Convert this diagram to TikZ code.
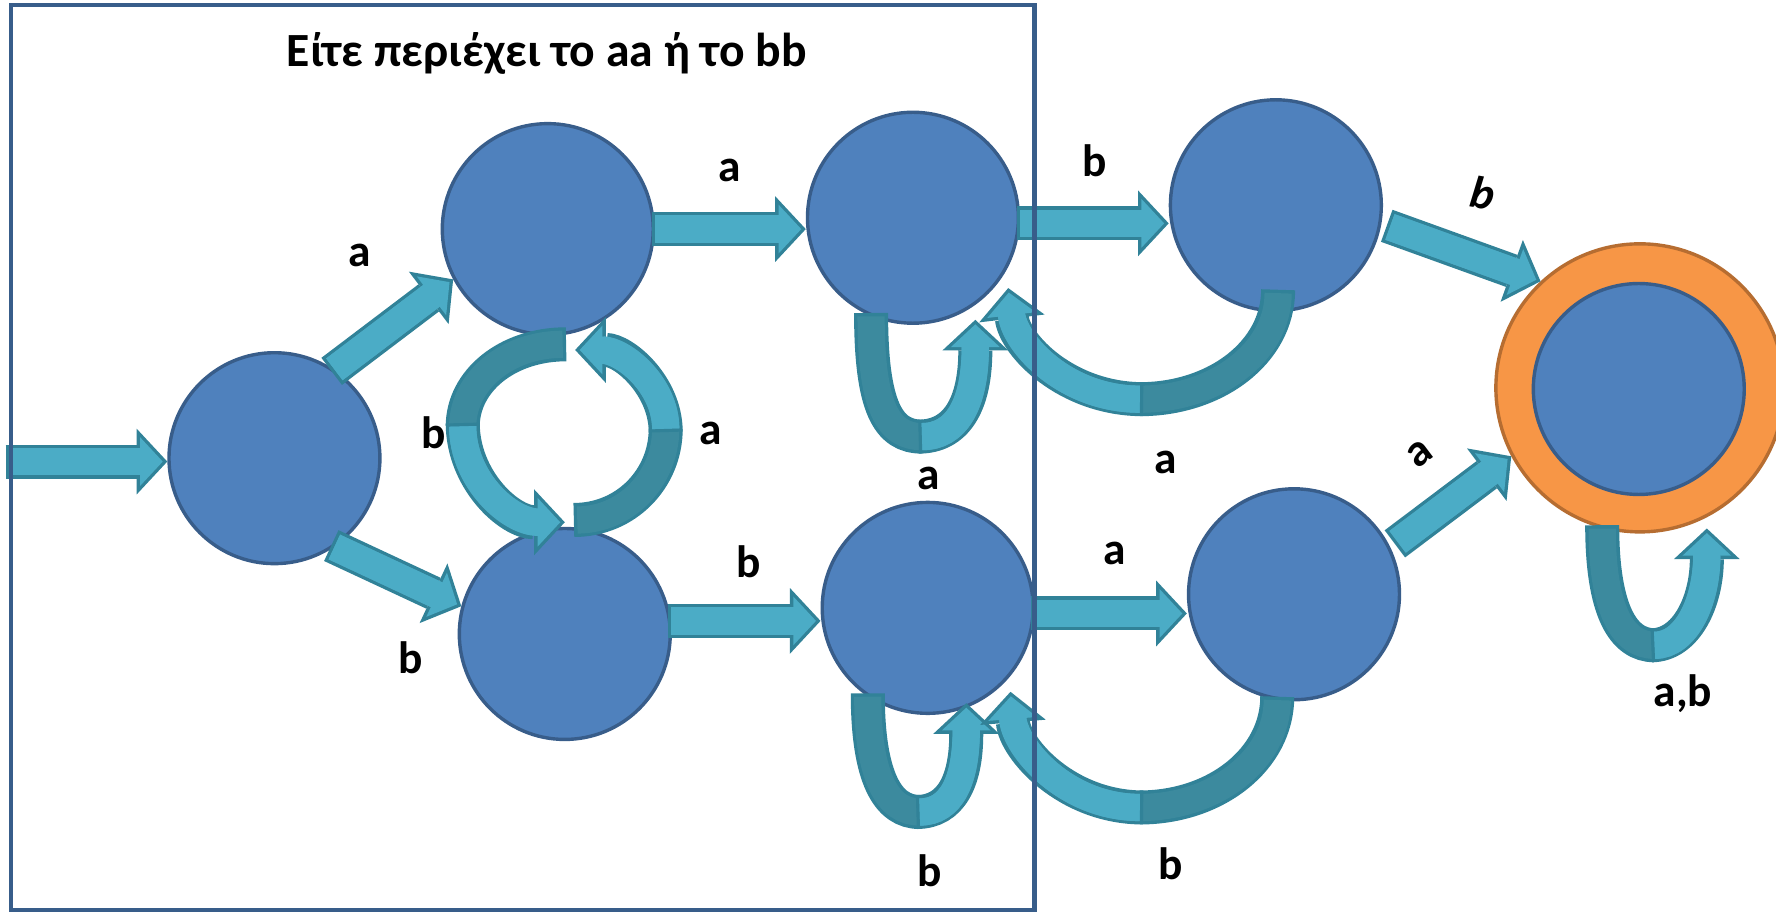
\documentclass[tikz,border=0pt]{standalone}
\usepackage{fontspec}
\setmainfont{Carlito}
\usetikzlibrary{arrows.meta,calc}

\definecolor{statefill}{RGB}{79,129,189}
\definecolor{stateline}{RGB}{56,93,138}
\definecolor{accfill}{RGB}{247,150,70}
\definecolor{accline}{RGB}{182,109,49}
\definecolor{arrfill}{RGB}{75,172,198}
\definecolor{arrdark}{RGB}{60,138,158}
\definecolor{arrline}{RGB}{49,130,152}

\newcommand{\lblfont}{\fontsize{40}{48}\selectfont\bfseries}

\tikzset{
  state/.style={circle, draw=stateline, fill=statefill, line width=3pt,
    minimum size=186pt, inner sep=0pt},
  accept/.style={circle, draw=accline, fill=accfill, line width=3pt,
    minimum size=254pt, inner sep=0pt},
  lbl/.style={font=\lblfont, inner sep=0pt},
  blockarr/.style={draw=arrfill, line width=24pt, shorten >=4pt,
    -{Triangle[length=20pt 0 0, width=43pt 0 0, line width=0pt 0 0]},
    preaction={draw=arrline, line width=30pt, shorten >=0pt, shorten <=-3pt,
      -{Triangle[length=27pt 0 0, width=58pt 0 0, line width=0pt 0 0]}},
    postaction={draw=arrfill, line width=24pt, -, shorten >=22pt}},
  backband/.style={draw=arrdark, line width=24pt,
    preaction={draw=arrline, line width=30pt, shorten <=-3pt}},
}

\begin{document}
\begin{tikzpicture}[x=1pt, y=1pt]
  \useasboundingbox (0,0) rectangle (1566,804);

  % states
  \node[state] (q0) at (242,400) {};
  \node[state] (q1) at (483,602) {};
  \node[state] (q2) at (805,612) {};
  \node[state] (q3) at (498,245) {};
  \node[state] (q4) at (818,268) {};
  \node[state] (q5) at (1125,623) {};
  \node[state] (q6) at (1141,280) {};
  \node[accept] (acc) at (1446,462) {};
  \node[state] (q7) at (1445,461) {};

  \node[lbl, font=\fontsize{42}{50}\selectfont\bfseries, anchor=base] (ttl)
    at (482,745) {Είτε περιέχει το aa ή το bb};

  % straight moves
  \coordinate (init) at (8,397);
  \draw[blockarr] (init) -- (q0.west |- init);
  \draw[blockarr] (q0.56) -- (q1.208);
  \draw[blockarr] (q0.-56) -- (q3.165);
  \draw[blockarr] (q1.east) -- (q1.east -| q2.west);
  \draw[blockarr] (q3.7) -- (q3.7 -| q4.west);
  \draw[blockarr] (q2.-3) -- (q2.-3 -| q5.west);
  \draw[blockarr] (q4.-3) -- (q4.-3 -| q6.west);
  \draw[blockarr] ($(q5.-10)!8pt!(acc.133)$) -- (acc.133);
  \draw[blockarr] ($(q6.26)!8pt!(acc.208)$) -- (acc.208);

  % curved moves between q1 and q3
  \coordinate (bl) at (408,428);
  \coordinate (ar) at (587,426);
  \draw[backband] ([yshift=-8pt]q1.-82) .. controls +(-49,0) and +(0,40) .. (bl);
  \draw[blockarr] (bl) .. controls +(0,-47) and +(-49,0) .. ([yshift=4pt]q3.north);
  \draw[backband] ([xshift=11pt,yshift=6pt]q3.north) .. controls +(43,0) and +(0,-44) .. (ar);
  \draw[blockarr] (ar) .. controls +(0,38) and +(43,0) .. ([xshift=11pt,yshift=-13pt]q1.-82);

  % loops
  \coordinate (lc) at ($(q2)+(8,-193)$);
  \coordinate (tc) at ($(q2)+(55,-90)$);
  \draw[backband] (q2.247) .. controls +(0,-80) and +(-30,0) .. (lc);
  \draw[blockarr] (lc) .. controls +(30,0) and +(0,-75) .. (tc);

  \coordinate (le) at ($(q4)+(-7,-180)$);
  \coordinate (te) at ($(q4)+(34,-84)$);
  \draw[backband] (q4.236) .. controls +(0,-72) and +(-28,0) .. (le);
  \draw[blockarr] (le) .. controls +(28,0) and +(0,-68) .. (te);

  \coordinate (lg) at ($(acc)+(13,-227)$);
  \coordinate (tg) at ($(acc)+(59,-124)$);
  \draw[backband] (acc.255) .. controls +(0,-72) and +(-28,0) .. (lg);
  \draw[blockarr] (lg) .. controls +(28,0) and +(0,-64) .. (tg);

  % back moves
  \coordinate (ld) at ($(q5)+(-120,-171)$);
  \coordinate (td) at ($(q2)+(84,-62)$);
  \draw[backband] ([xshift=2pt,yshift=17pt]q5.south) .. controls +(0,-52) and +(67,0) .. (ld);
  \draw[blockarr] (ld) .. controls +(-65,0) and +(6,-50) .. (td);

  \coordinate (lf) at ($(q6)+(-136,-188)$);
  \coordinate (tf) at ($(q4)+(73,-74)$);
  \draw[backband] (q6.261) .. controls +(0,-52) and +(67,0) .. (lf);
  \draw[blockarr] (lf) .. controls +(-65,0) and +(4,-50) .. (tf);

  % labels
  \foreach \nm/\x/\y/\t in {a01/317/579/a, b03/362/224/b, a12/643/654/a,
      b34/660/309/b, b25/965/662/b, a46/983/316/a, b13/382/422/b,
      a31/627/422/a, a22/819/382/a, a52/1028/396/a, b44/820/36/b,
      b64/1032/42/b}
    \node[lbl] (l-\nm) at (\x,\y) {\t};
  \node[lbl, font=\lblfont\itshape, rotate=-10] (l-b5f) at (1308,634) {b};
  \node[lbl, rotate=37] (l-a6f) at (1252,404) {a};
  \node[lbl] (l-abf) at (1484,192) {a,b};

  % box
  \draw[stateline, line width=4pt] (9.5,1.5) rectangle (912,799.5);
\end{tikzpicture}
\end{document}
